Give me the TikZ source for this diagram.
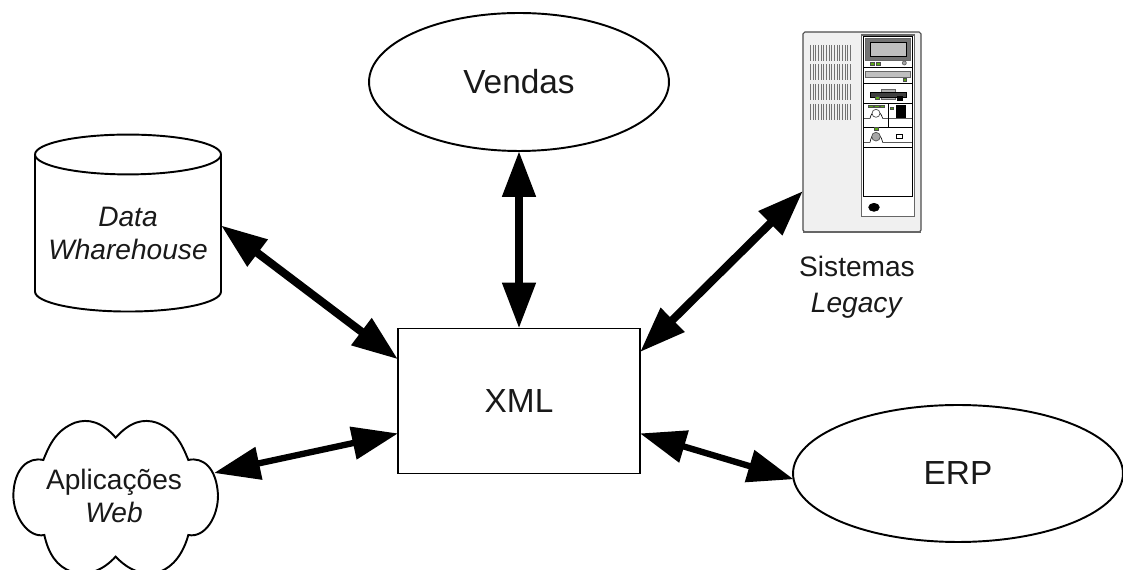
\documentclass[tikz,border=0pt]{standalone}
\usepackage{fontspec}
\setmainfont{Liberation Sans}
\usetikzlibrary{arrows.meta,shapes.geometric}
\definecolor{ledgreen}{RGB}{90,170,20}
\definecolor{srvface}{RGB}{240,240,240}
\tikzset{
  box/.style={draw,line width=1.1pt,inner sep=0,outer sep=0,align=center,text=black!90},
  oval/.style={box,ellipse},
  bigfont/.style={font=\fontsize{19}{23}\selectfont},
  midfont/.style={font=\fontsize{16}{19}\selectfont},
  link/.style={line width=4.6pt,{Triangle[length=0.92cm,width=0.64cm]}-{Triangle[length=0.92cm,width=0.64cm]}},
  thinlink/.style={link,line width=3.6pt},
  led/.style={fill=ledgreen,draw=black!70,line width=0.2pt},
  panel/.style={draw=black,line width=0.35pt}
}
\begin{document}
\begin{tikzpicture}[x=0.02cm,y=-0.02cm]
\useasboundingbox (0,0) rectangle (1123,570);
\clip (0,0) rectangle (1123,570);
\node[box,bigfont,minimum width=4.84cm,minimum height=2.9cm] (xml) at (519,401) {XML};
\node[oval,bigfont,minimum width=6cm,minimum height=2.76cm] (vendas) at (519,82) {Vendas};
\node[oval,bigfont,minimum width=6.6cm,minimum height=2.74cm] (erp) at (958,473.5) {ERP};
\node[box,midfont,shape=cylinder,shape border rotate=90,aspect=0.25,minimum width=3.72cm,minimum height=3.54cm] (dw) at (128,233.5) {\textit{Data}\\\textit{Wharehouse}};
% servidor
\node[box,draw=black!70,fill=srvface,rounded corners=1pt,line width=0.6pt,minimum width=2.36cm,minimum height=4cm] (srv) at (862,132) {};
\draw[black!60,line width=1pt] (srv.south west) -- (srv.south east);
\begin{scope}[shift={(780,20)},x=0.02cm/3,y=-0.02cm/3]
\foreach \r in {75,133,192,252}
  \foreach \v in {91,99,...,215}
    \draw[black!55,line width=0.55pt] (\v,\r) -- (\v,\r+47);
\draw[draw=black!60,fill=white,line width=0.8pt] (245,45) rectangle (403,590);
\draw[panel] (250,50) rectangle (397,530);
\foreach \l in {143,190,250,322,382}
  \draw[panel] (250,\l) -- (397,\l);
\draw[fill=black!55,draw=black!60] (256,55) rectangle (390,120);
\draw[fill=black!25,draw=black] (270,67) rectangle (378,108);
\draw[led] (270,126) rectangle (282,136);
\draw[led] (288,126) rectangle (300,136);
\draw[fill=black!35,draw=black!60] (373,129) circle (6);
\draw[fill=black!25,draw=black!60] (255,153) rectangle (392,172);
\draw[led] (370,175) rectangle (380,184);
\draw[fill=black!30,draw=black!60] (305,208) rectangle (345,238);
\draw[fill=black!75,draw=black] (270,216) rectangle (378,231);
\draw[led] (287,230) rectangle (297,238);
\draw[fill=black] (352,228) rectangle (368,240);
\foreach \v in {266,283,300}
  \draw[led] (\v,256) rectangle (\v+14,263);
\draw[panel] (250,295) -- (270,295) .. controls (275,270) and (300,265) .. (308,295) -- (397,295);
\draw[fill=white,draw=black!70] (288,280) circle (12);
\draw[led] (332,262) rectangle (340,269);
\draw[fill=black] (348,256) rectangle (376,293);
\draw[panel] (325,250) -- (325,322);
\draw[panel] (250,367) -- (270,367) .. controls (275,335) and (300,330) .. (308,367) -- (397,367);
\draw[led] (283,322) rectangle (295,332);
\draw[fill=black!35,draw=black!70] (288,350) circle (13);
\draw[fill=white,draw=black,line width=0.5pt] (348,342) rectangle (368,356);
\draw[fill=black] (282,562) ellipse (16 and 12);
\end{scope}
\node[font=\fontsize{16}{20.4}\selectfont,align=center,text=black!90] (sis) at (857,287) {Sistemas\\\textit{Legacy}};
% nuvem
\begin{scope}[shift={(0,400)},x=0.02cm/3,y=-0.02cm/3]
\draw[line width=1.1pt] (347,113) .. controls (390,65) and (430,55) .. (470,68)
  .. controls (525,90) and (545,130) .. (565,180)
  .. controls (610,170) and (650,205) .. (654,285)
  .. controls (655,350) and (615,415) .. (565,405)
  .. controls (550,460) and (520,500) .. (480,515)
  .. controls (430,530) and (385,510) .. (347,470)
  .. controls (310,510) and (265,530) .. (215,515)
  .. controls (170,500) and (145,460) .. (133,405)
  .. controls (85,415) and (40,350) .. (40,285)
  .. controls (42,205) and (85,170) .. (130,180)
  .. controls (150,130) and (170,90) .. (225,68)
  .. controls (265,55) and (305,65) .. (347,113) -- cycle;
\end{scope}
\node[midfont,align=center,text=black!90] (web) at (114,496) {Aplicações\\\textit{Web}};
\coordinate (webport) at (214,473);
\draw[link] (vendas.south) -- (xml.north);
\draw[link] (dw.5) -- (xml.161);
\draw[link] (srv.225) -- (xml.22.3);
\draw[thinlink] (webport) -- (xml.195.3);
\draw[thinlink] (xml.-15.1) -- (erp.182);
\end{tikzpicture}
\end{document}
